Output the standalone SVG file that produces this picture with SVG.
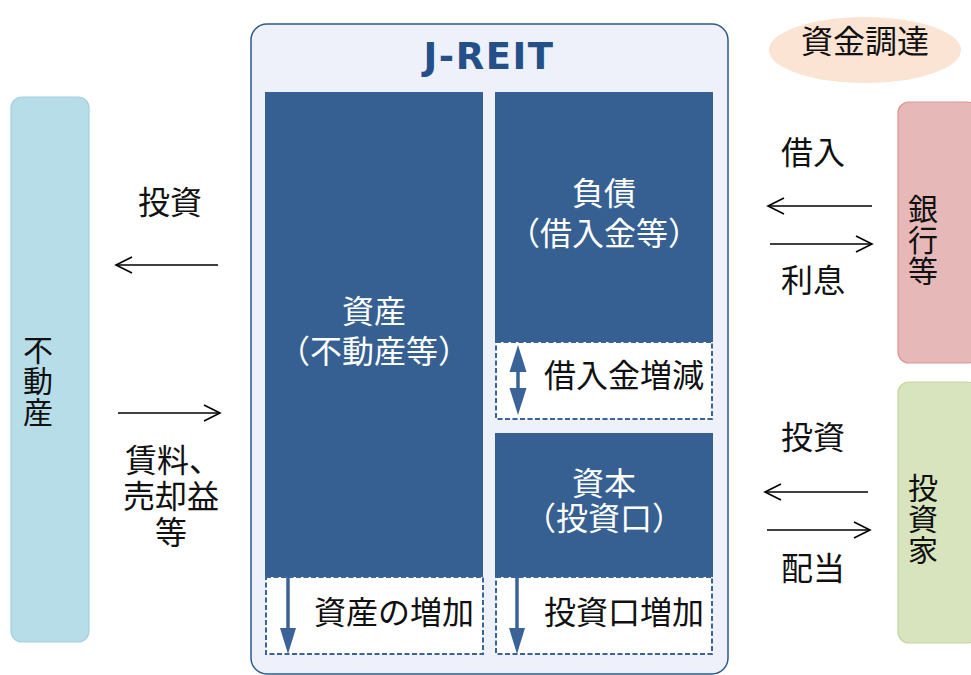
<svg xmlns="http://www.w3.org/2000/svg" width="971" height="675" viewBox="0 0 971 675">
<defs>
<style>
.t{font-family:"Noto Sans CJK JP","Noto Sans",sans-serif;font-size:32px;fill:#111;text-anchor:middle}
.v{font-family:"Noto Sans CJK JP",sans-serif;font-size:30px;fill:#111;text-anchor:middle;writing-mode:vertical-rl;letter-spacing:1px}
.w{fill:#fff}
.blk{fill:#376092}
.dash{fill:#fff;stroke:#3a6397;stroke-width:2;stroke-dasharray:5,2.5}
.ln{stroke:#000;stroke-width:1.6;fill:none}
.bl{stroke:#3a6397;stroke-width:3.5;fill:none}
.hd{fill:#3a6397}
</style>
<marker id="open" viewBox="0 0 20 20" refX="18" refY="10" markerWidth="20" markerHeight="20" markerUnits="userSpaceOnUse" orient="auto">
<path d="M2,2 L18,10 L2,18" fill="none" stroke="#000" stroke-width="1.6"/>
</marker>
</defs>
<rect width="971" height="675" fill="#fff"/>

<g id="jreit">
<rect x="251" y="24" width="477" height="650" rx="16" fill="#eef1f9" stroke="#2e5a8c" stroke-width="1.5"/>
<text x="489" y="69" font-family="DejaVu Sans,sans-serif" font-weight="bold" font-size="37" fill="#24508a" text-anchor="middle" letter-spacing="1.5">J-REIT</text>
</g>

<g id="assets">
<rect class="blk" x="265" y="92" width="218" height="485"/>
<text class="t w"><tspan x="374" y="323">資産</tspan><tspan x="374" y="363">（不動産等）</tspan></text>
</g>
<g id="assets-increase">
<rect class="dash" x="266" y="577" width="217" height="77"/>
<text class="t" x="394" y="624">資産の増加</text>
</g>

<g id="liabilities">
<rect class="blk" x="495" y="92" width="218" height="250"/>
<text class="t w"><tspan x="604" y="205">負債</tspan><tspan x="604" y="245">（借入金等）</tspan></text>
</g>
<g id="loan-change">
<rect class="dash" x="496" y="342" width="216" height="77"/>
<text class="t" x="624" y="387">借入金増減</text>
</g>

<g id="capital">
<rect class="blk" x="495" y="433" width="218" height="144"/>
<text class="t w"><tspan x="604" y="495">資本</tspan><tspan x="604" y="530">（投資口）</tspan></text>
</g>
<g id="units-increase">
<rect class="dash" x="496" y="577" width="216" height="77"/>
<text class="t" x="624" y="624">投資口増加</text>
</g>

<g id="funding">
<ellipse cx="865" cy="50" rx="96" ry="33" fill="#fbe4d3"/>
<text class="t" x="865" y="53">資金調達</text>
</g>

<g id="realestate">
<rect x="11" y="97" width="78" height="545" rx="11" fill="#b7dde8" stroke="#a3d0de" stroke-width="1.2"/>
<text class="v" x="38" y="381">不動産</text>
</g>

<g id="banks">
<rect x="898" y="102" width="80" height="261" rx="11" fill="#e6b9b8" stroke="#d99694" stroke-width="1.2"/>
<text class="v" x="923" y="240">銀行等</text>
</g>

<g id="investors">
<rect x="898" y="382" width="80" height="261" rx="11" fill="#d7e4bd" stroke="#c3d69b" stroke-width="1.2"/>
<text class="v" x="923" y="519">投資家</text>
</g>

<g id="connectors">
<line class="ln" x1="218" y1="265" x2="116" y2="265" marker-end="url(#open)"/>
<line class="ln" x1="118" y1="413" x2="220" y2="413" marker-end="url(#open)"/>
<line class="ln" x1="872" y1="206" x2="768" y2="206" marker-end="url(#open)"/>
<line class="ln" x1="770" y1="244" x2="872" y2="244" marker-end="url(#open)"/>
<line class="ln" x1="868" y1="492" x2="765" y2="492" marker-end="url(#open)"/>
<line class="ln" x1="767" y1="530" x2="870" y2="530" marker-end="url(#open)"/>
<line class="bl" x1="288" y1="577" x2="288" y2="630"/>
<path class="hd" d="M280,628 L296,628 L288,654 Z"/>
<line class="bl" x1="517" y1="577" x2="517" y2="630"/>
<path class="hd" d="M509,628 L525,628 L517,654 Z"/>
<line class="bl" x1="518" y1="370" x2="518" y2="390"/>
<path class="hd" d="M509.5,372 L526.5,372 L518,345 Z"/>
<path class="hd" d="M509.5,388 L526.5,388 L518,415 Z"/>
</g>

<g id="labels">
<text class="t" x="170" y="214">投資</text>
<text class="t"><tspan x="173" y="472">賃料、</tspan><tspan x="171" y="508">売却益</tspan><tspan x="171" y="544">等</tspan></text>
<text class="t" x="813" y="164">借入</text>
<text class="t" x="813" y="292">利息</text>
<text class="t" x="813" y="449">投資</text>
<text class="t" x="813" y="580">配当</text>
</g>
</svg>
